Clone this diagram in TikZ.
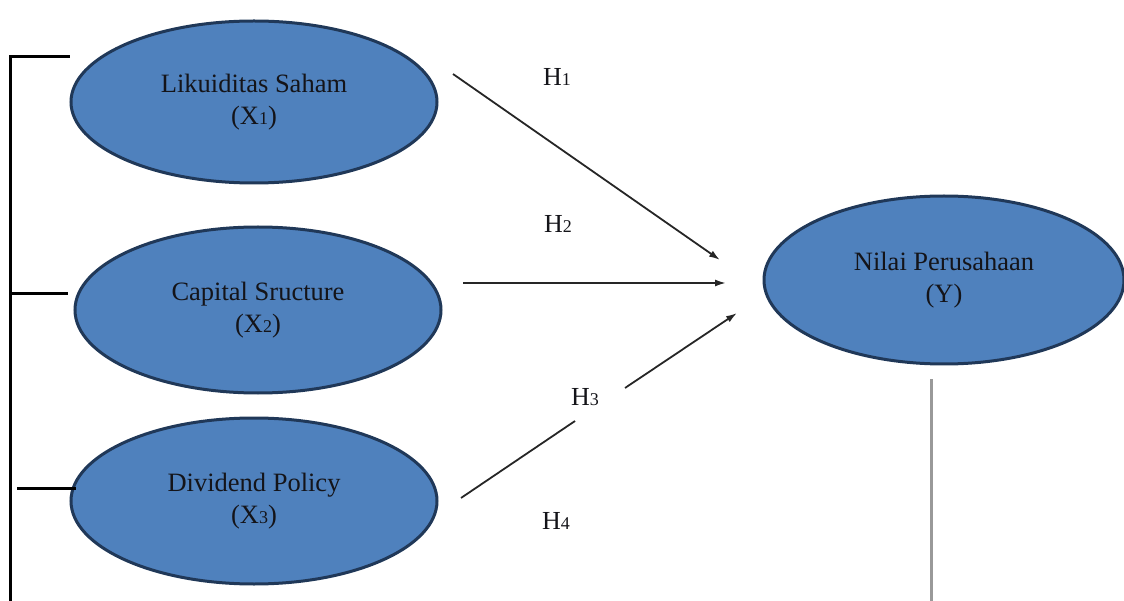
\documentclass[tikz,border=0pt]{standalone}
\usepackage{fontspec}
\setmainfont{Liberation Serif}
\usetikzlibrary{shapes.geometric,arrows.meta}
\definecolor{eblue}{RGB}{79,129,189}
\definecolor{ebord}{RGB}{32,56,88}
\definecolor{txt}{RGB}{20,20,25}
\begin{document}
\begin{tikzpicture}[x=1pt,y=-1pt,
  var/.style={ellipse, draw=ebord, line width=3pt, fill=eblue, minimum width=366pt, minimum height=162pt, align=center, font=\fontsize{26.5}{32}\selectfont, text=txt, inner sep=0pt},
  arr/.style={line width=1.8pt, draw=black!85, -{Latex[length=11pt,width=7pt]}},
  seg/.style={line width=1.8pt, draw=black!85},
  lab/.style={font=\fontsize{26}{28}\selectfont, text=txt, inner sep=0pt},
  brk/.style={line width=3pt, draw=black},
  gline/.style={line width=3pt, draw=black!40}]
\useasboundingbox (0,0) rectangle (1124,601);
\newcommand{\sbs}[1]{{\fontsize{18}{20}\selectfont #1}}
% ellipses
\node[var] (x1) at (254,102) {Likuiditas Saham\\(X\sbs{1})};
\node[var, minimum height=166pt] (x2) at (258,310) {Capital Sructure\\(X\sbs{2})};
\node[var, minimum height=166pt] (x3) at (254,501) {Dividend Policy\\(X\sbs{3})};
\node[var, minimum width=360pt, minimum height=168pt] (y) at (944,280) {Nilai Perusahaan\\(Y)};
% arrow end points
\coordinate (a1s) at (453,74);
\coordinate (a1e) at (720,260);
\coordinate (a2s) at (463,283);
\coordinate (a2e) at (726,283);
\coordinate (a3s) at (461,498);
\coordinate (a3m) at (575,421);
\coordinate (a3n) at (625,388);
\coordinate (a3e) at (737,313);
\draw[arr] (a1s) -- (a1e);
\draw[arr] (a2s) -- (a2e);
\draw[seg] (a3s) -- (a3m);
\draw[arr] (a3n) -- (a3e);
% labels
\node[lab] (h1) at (557,77) {H\sbs{1}};
\node[lab] (h2) at (558,224) {H\sbs{2}};
\node[lab] (h3) at (585,397) {H\sbs{3}};
\node[lab] (h4) at (556,521) {H\sbs{4}};
% bracket
\coordinate (bt) at (10,57);
\coordinate (bb) at (10,601);
\coordinate (t1) at (70,57);
\coordinate (m0) at (10,294);
\coordinate (m1) at (68,294);
\coordinate (l0) at (17,488);
\coordinate (l1) at (76,488);
\draw[brk] (bb) -- (bt) -- (t1);
\draw[brk] (m0) -- (m1);
\draw[brk] (l0) -- (l1);
% grey line
\coordinate (g0) at (931,379);
\coordinate (g1) at (931,601);
\draw[gline] (g0) -- (g1);
\end{tikzpicture}
\end{document}
